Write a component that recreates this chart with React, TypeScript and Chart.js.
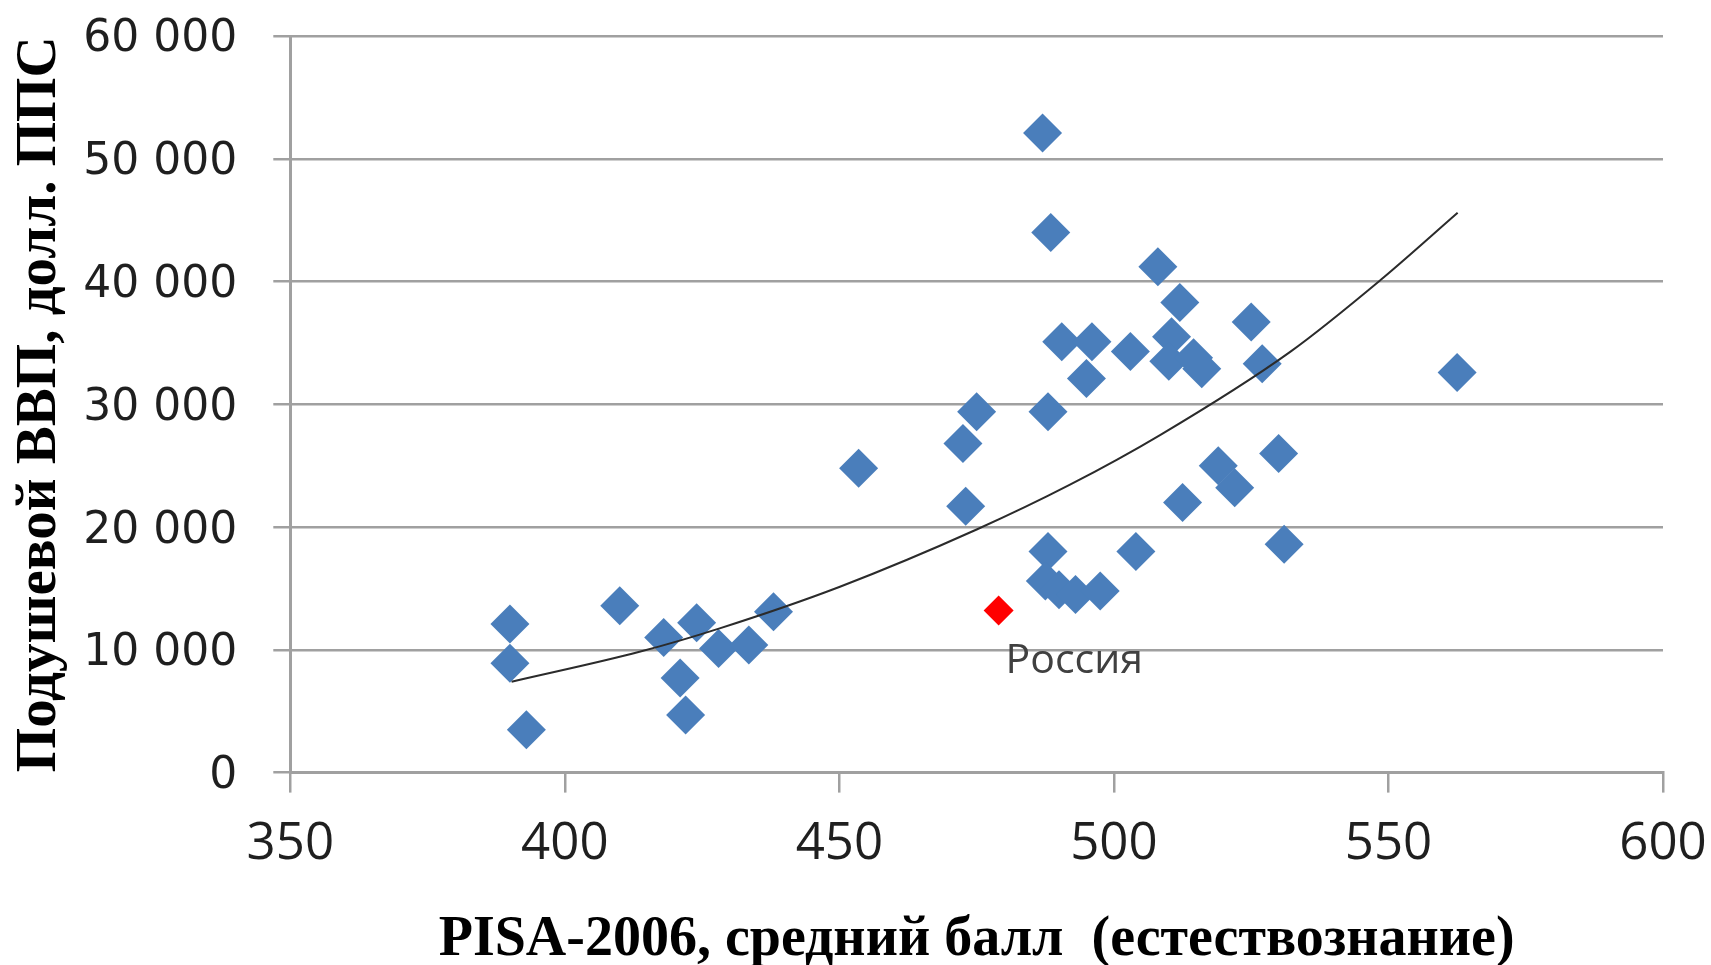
import React, { useEffect, useRef } from 'react';
import { Chart, registerables } from 'chart.js';

Chart.register(...registerables);

// PISA-2006 mean science score (x) and GDP per capita, USD PPP (y)
const pisaScores = [
  390, 390, 393, 410, 418, 424, 421, 422, 428, 433.5, 438,
  453.5, 472.5, 475, 473,
  487, 488.5, 488, 490.5, 496, 495, 488, 487.5, 490, 493, 497.5,
  504, 503, 508, 512, 510.5, 510, 514.5, 516, 512.5, 519, 522,
  525, 527, 530, 531, 562.5,
];
const gdpPerCapita = [
  12100, 8900, 3500, 13600, 11000, 12200, 7700, 4700, 10100, 10400, 13100,
  24800, 26800, 29400, 21700,
  52100, 44000, 29400, 35100, 35100, 32100, 18000, 15600, 14900, 14500, 14800,
  18000, 34300, 41200, 38300, 35500, 33500, 33800, 32900, 22000, 25000, 23200,
  36700, 33300, 26000, 18600, 32600,
];

const russiaScore = [479];
const russiaGdp = [13200];
const russiaLabel = 'Россия';

// Trend line
const trendScores = [390.3, 413.6, 428.2, 450.1, 475, 492, 508.4, 532.1, 548.5, 562.6];
const trendGdp = [7400, 9840, 11750, 15140, 19800, 23450, 27490, 34270, 40100, 45600];

const xTicks = [350, 400, 450, 500, 550, 600];
const yTicks = [0, 10000, 20000, 30000, 40000, 50000, 60000];

const xTitle = 'PISA-2006, средний балл  (естествознание)';
const yTitle = 'Подушевой ВВП, долл. ППС';

const GRID = '#a0a0a0';

function fmtThousands(v: number): string {
  return String(v).replace(/\B(?=(\d{3})+(?!\d))/g, ' ');
}

const russiaLabelPlugin = {
  id: 'russiaLabel',
  afterDatasetsDraw(chart: any) {
    const meta = chart.getDatasetMeta(2);
    const pt = meta && meta.data && meta.data[0];
    if (!pt) return;
    const ctx = chart.ctx;
    ctx.save();
    ctx.font = '41px "Open Sans"';
    ctx.fillStyle = '#404040';
    ctx.textAlign = 'left';
    ctx.textBaseline = 'alphabetic';
    ctx.fillText(russiaLabel, pt.x + 7, pt.y + 62);
    ctx.restore();
  },
};

export default function App() {
  const canvasRef = useRef<HTMLCanvasElement | null>(null);

  useEffect(() => {
    const canvas = canvasRef.current;
    if (!canvas) return;
    const chart = new Chart(canvas, {
      type: 'scatter',
      data: {
        datasets: [
          {
            label: 'trend',
            type: 'line',
            data: trendScores.map((x, i) => ({ x, y: trendGdp[i] })),
            borderColor: '#2b2b2b',
            borderWidth: 2,
            pointRadius: 0,
            fill: false,
            cubicInterpolationMode: 'monotone',
            order: 0,
          } as any,
          {
            label: 'countries',
            data: pisaScores.map((x, i) => ({ x, y: gdpPerCapita[i] })),
            pointStyle: 'rectRot',
            pointRadius: 19.5,
            backgroundColor: '#4A7EBB',
            borderColor: '#4A7EBB',
            borderWidth: 0,
            order: 2,
          },
          {
            label: russiaLabel,
            data: russiaScore.map((x, i) => ({ x, y: russiaGdp[i] })),
            pointStyle: 'rectRot',
            pointRadius: 15,
            backgroundColor: '#FF0000',
            borderColor: '#FF0000',
            borderWidth: 0,
            order: 1,
          },
        ],
      },
      options: {
        animation: false,
        responsive: false,
        devicePixelRatio: 1,
        layout: { padding: { top: 36, right: 48, left: 0, bottom: 0 } },
        plugins: {
          legend: { display: false },
          tooltip: { enabled: false },
        },
        scales: {
          x: {
            type: 'linear',
            min: 350,
            max: 600,
            afterBuildTicks: (s: any) => {
              s.ticks = xTicks.map((v) => ({ value: v }));
            },
            afterFit: (s: any) => {
              s.height = 192.4;
              s.paddingLeft = 0;
              s.paddingRight = 0;
              s.paddingTop = 0;
              s.paddingBottom = 0;
            },
            ticks: {
              font: { family: 'Open Sans', size: 51 },
              color: '#1f1f1f',
              padding: 21,
              maxRotation: 0,
              autoSkip: false,
            },
            grid: {
              drawOnChartArea: false,
              drawTicks: true,
              tickLength: 20,
              color: GRID,
              lineWidth: 2.5,
            },
            border: { color: GRID, width: 3 },
            title: {
              display: true,
              text: xTitle,
              color: '#000',
              font: { family: 'Liberation Serif', weight: 'bold', size: 56 },
              padding: { top: 0, bottom: -9 },
            },
          },
          y: {
            type: 'linear',
            min: 0,
            max: 60000,
            afterBuildTicks: (s: any) => {
              s.ticks = yTicks.map((v) => ({ value: v }));
            },
            afterFit: (s: any) => {
              s.width = 290.3;
              s.paddingLeft = 0;
              s.paddingRight = 0;
              s.paddingTop = 0;
              s.paddingBottom = 0;
            },
            ticks: {
              font: { family: 'DejaVu Sans', size: 44 },
              color: '#1f1f1f',
              padding: 36,
              labelOffset: 4,
              autoSkip: false,
              callback: (v: any) => fmtThousands(Number(v)),
            },
            grid: {
              drawTicks: true,
              tickLength: 17,
              color: GRID,
              lineWidth: 2.5,
            },
            border: { color: GRID, width: 3 },
            title: {
              display: true,
              text: yTitle,
              color: '#000',
              font: { family: 'Liberation Serif', weight: 'bold', size: 57 },
              padding: { top: 6, bottom: 0 },
            },
          },
        },
      } as any,
      plugins: [russiaLabelPlugin],
    });
    return () => chart.destroy();
  }, []);

  return (
    <div style={{ position: 'absolute', left: 0, top: 0, width: 1711, height: 965, background: '#fff' }}>
      <canvas ref={canvasRef} width={1711} height={965} style={{ display: 'block' }} />
    </div>
  );
}
